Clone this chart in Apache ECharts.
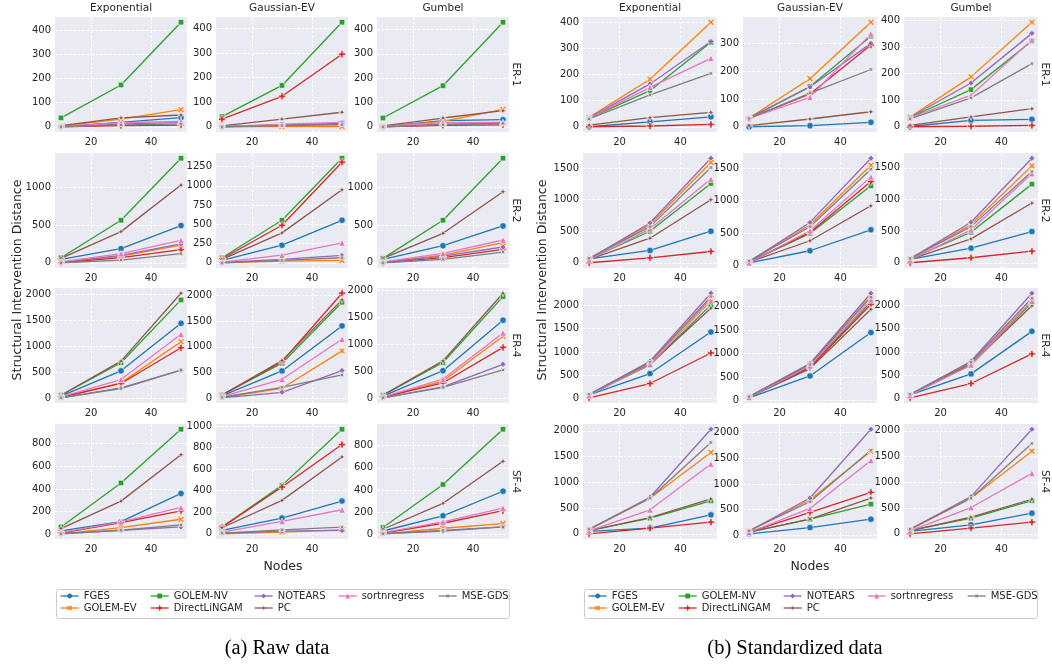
<!DOCTYPE html>
<html><head><meta charset="utf-8">
<script src="https://cdn.jsdelivr.net/npm/echarts@6/dist/echarts.min.js"></script>
<style>html,body{margin:0;padding:0;background:#fff}#c{width:1052px;height:668px}</style>
</head><body><div id="c"></div>
<script>
// ---------------- DATA ----------------
const nodes = [10, 30, 50];
const xTicks = [20, 40];
const methods = ['FGES','GOLEM-EV','GOLEM-NV','DirectLiNGAM','NOTEARS','PC','sortnregress','MSE-GDS'];
const noises = ['Exponential','Gaussian-EV','Gumbel'];
const graphs = ['ER-1','ER-2','ER-4','SF-4'];
// each subplot: rows in methods order, values at nodes 10,30,50

// (a) Raw data
const rawER1Exp = [[1,18,38],[2,32,71],[37,174,435],[0,5,7],[1,11,18],[5,37,49],[2,17,22],[0,8,11]];
const rawER1Gau = [[0,8,14],[0,1,1],[41,168,425],[31,124,295],[1,8,11],[4,31,59],[1,11,18],[0,5,8]];
const rawER1Gum = [[1,25,29],[1,22,72],[36,169,430],[0,6,8],[1,11,14],[4,36,66],[2,17,18],[0,8,14]];
const rawER2Exp = [[44,187,493],[5,89,235],[67,564,1386],[0,67,173],[5,98,250],[58,413,1030],[13,120,298],[0,36,120]];
const rawER2Gau = [[30,228,552],[0,22,30],[65,552,1358],[52,487,1306],[5,43,95],[43,388,948],[8,99,259],[0,30,65]];
const rawER2Gum = [[44,226,488],[5,102,266],[58,564,1386],[0,67,178],[5,89,209],[58,391,942],[13,124,302],[0,44,142]];
const rawER4Exp = [[45,530,1438],[20,300,1086],[64,684,1885],[25,288,971],[15,204,543],[64,716,2013],[30,364,1227],[15,192,543]];
const rawER4Gau = [[45,532,1408],[15,195,922],[65,681,1869],[65,714,2044],[10,117,539],[65,733,1915],[30,370,1149],[20,214,454]];
const rawER4Gum = [[45,515,1447],[20,323,1149],[64,665,1882],[25,292,944],[15,217,633],[64,696,1944],[30,360,1211],[15,205,528]];
const rawSF4Exp = [[30,112,361],[5,59,133],[65,453,927],[10,104,207],[5,36,65],[50,293,702],[15,110,237],[5,36,83]];
const rawSF4Gau = [[31,146,304],[0,16,37],[62,449,970],[62,434,828],[5,25,31],[56,310,713],[15,115,223],[5,37,62]];
const rawSF4Gum = [[30,167,389],[5,55,97],[61,450,949],[10,100,213],[5,30,67],[46,280,660],[15,112,237],[5,36,67]];

// (b) Standardized data
const stdER1Exp = [[0,19,38],[36,182,400],[33,138,323],[0,3,9],[34,164,326],[6,35,55],[33,151,262],[30,122,204]];
const stdER1Gau = [[0,4,16],[31,173,376],[31,145,326],[30,118,294],[31,143,300],[4,28,54],[30,106,334],[30,121,206]];
const stdER1Gum = [[1,24,28],[37,188,394],[35,140,323],[0,2,5],[36,165,352],[5,37,68],[34,119,327],[30,109,238]];
const stdER2Exp = [[63,195,500],[65,605,1589],[60,500,1257],[0,79,179],[63,631,1657],[55,389,1000],[45,537,1326],[70,573,1510]];
const stdER2Gau = [[45,230,553],[60,630,1546],[60,497,1229],[55,512,1295],[62,666,1654],[55,384,922],[45,538,1367],[70,599,1485]];
const stdER2Gum = [[55,231,493],[65,603,1530],[60,482,1242],[0,79,183],[63,639,1651],[55,377,943],[45,519,1410],[70,571,1441]];
const stdER4Exp = [[75,535,1428],[85,770,2150],[80,720,2013],[14,321,978],[85,800,2264],[80,740,1942],[70,730,2100],[90,780,2192]];
const stdER4Gau = [[60,525,1447],[80,780,2227],[80,720,2100],[75,700,2050],[85,790,2284],[75,680,1943],[70,740,2142],[85,770,2200]];
const stdER4Gum = [[75,528,1443],[85,760,2100],[80,720,2064],[14,321,957],[85,800,2264],[80,740,1993],[70,720,2090],[90,780,2157]];
const stdSF4Exp = [[45,110,368],[80,690,1581],[60,303,639],[0,110,226],[85,710,2032],[60,316,677],[55,465,1355],[90,690,1774]];
const stdSF4Gau = [[30,150,314],[80,693,1635],[60,314,608],[60,445,837],[85,726,2066],[60,314,726],[55,523,1458],[90,654,1655]];
const stdSF4Gum = [[45,174,400],[80,690,1606],[60,303,645],[0,110,226],[85,722,2032],[60,323,671],[55,510,1174],[90,690,1755]];

// y tick label sets
const t400 = [0,100,200,300,400];
const t300 = [0,100,200,300];
const t1000 = [0,500,1000];
const t1250 = [0,250,500,750,1000,1250];
const t1500 = [0,500,1000,1500];
const t2000 = [0,500,1000,1500,2000];
const t800 = [0,200,400,600,800];
const t1000b = [0,200,400,600,800,1000];

const rawData = [[rawER1Exp,rawER1Gau,rawER1Gum],[rawER2Exp,rawER2Gau,rawER2Gum],[rawER4Exp,rawER4Gau,rawER4Gum],[rawSF4Exp,rawSF4Gau,rawSF4Gum]];
const stdData = [[stdER1Exp,stdER1Gau,stdER1Gum],[stdER2Exp,stdER2Gau,stdER2Gum],[stdER4Exp,stdER4Gau,stdER4Gum],[stdSF4Exp,stdSF4Gau,stdSF4Gum]];
const rawTicks = [[t400,t400,t400],[t1000,t1250,t1000],[t2000,t2000,t2000],[t800,t1000b,t800]];
const stdTicks = [[t400,t300,t400],[t1500,t1500,t1500],[t2000,t2000,t2000],[t2000,t2000,t2000]];

// ---------------- STYLE / LAYOUT ----------------
const colors = ['#1f77b4','#ff7f0e','#2ca02c','#d62728','#9467bd','#8c564b','#e377c2','#7f7f7f'];
const pX = 'path://M2,0 L5,3 L8,0 L10,2 L7,5 L10,8 L8,10 L5,7 L2,10 L0,8 L3,5 L0,2 Z';
const pPlus = 'path://M3.4,0 H6.6 V3.4 H10 V6.6 H6.6 V10 H3.4 V6.6 H0 V3.4 H3.4 Z';
const pStar = 'path://M5,0 L6.3,3.7 L10,5 L6.3,6.3 L5,10 L3.7,6.3 L0,5 L3.7,3.7 Z';
const symbols = ['circle', pX, 'rect', pPlus, 'diamond', pStar, 'triangle', pStar];
const symRot = [0,0,0,0,0,0,0,45];
const symSize = [6.5,6.5,5.5,7,6,7,6.5,7];
const FONT = 'DejaVu Sans';
const TXT = '#262626';

const rowTops = [17,153,288,424];
const rowH = 115;
const panels = [
  {data: rawData, ticks: rawTicks, cols:[55,216,377], w:132, rowLabelX:516, yLabelX:18, nodesX:283, caption:'(a) Raw data', capX:277},
  {data: stdData, ticks: stdTicks, cols:[583,743,904], w:134, rowLabelX:1045, yLabelX:543, nodesX:810, caption:'(b) Standardized data', capX:795}
];
const plain = v => String(v);

const grid=[], xAxis=[], yAxis=[], series=[], graphic=[], legend=[];
let gi = 0;
panels.forEach((P) => {
  for (let r=0;r<4;r++){
    for (let c=0;c<3;c++){
      const sub = P.data[r][c];
      let mn=Infinity, mx=-Infinity;
      sub.forEach(s=>s.forEach(v=>{mn=Math.min(mn,v);mx=Math.max(mx,v);}));
      const rg = mx-mn;
      grid.push({left:P.cols[c], top:rowTops[r], width:P.w, height:rowH, show:true, backgroundColor:'#EAEAF2', borderWidth:0, containLabel:false});
      xAxis.push({type:'value', gridIndex:gi, min:8, max:52,
        axisLine:{show:false}, axisTick:{show:false, customValues:xTicks},
        axisLabel:{customValues:xTicks, formatter:plain, fontSize:10, color:TXT, fontFamily:FONT, margin:5},
        splitLine:{show:true, lineStyle:{color:'#ffffff', width:1, type:[3,1.5]}}});
      yAxis.push({type:'value', gridIndex:gi, min:mn-0.05*rg, max:mx+0.05*rg,
        axisLine:{show:false}, axisTick:{show:false, customValues:P.ticks[r][c]},
        axisLabel:{customValues:P.ticks[r][c], formatter:plain, fontSize:10, color:TXT, fontFamily:FONT, margin:4},
        splitLine:{show:true, lineStyle:{color:'#ffffff', width:1, type:[3,1.5]}}});
      sub.forEach((vals,m)=>{
        series.push({type:'line', name:methods[m], xAxisIndex:gi, yAxisIndex:gi,
          data: nodes.map((x,k)=>[x, vals[k]]),
          symbol:symbols[m], symbolSize:symSize[m], symbolRotate:symRot[m], showSymbol:true,
          itemStyle:{color:colors[m], borderColor:'#ffffff', borderWidth:0.6},
          lineStyle:{color:colors[m], width:1.3},
          emphasis:{disabled:true}, animation:false, z:2});
      });
      gi++;
    }
    graphic.push({type:'text', x:P.rowLabelX, y:rowTops[r]+rowH/2, rotation:-Math.PI/2,
      style:{text:graphs[r], font:'10.5px "DejaVu Sans"', fill:TXT, align:'center', verticalAlign:'middle'}});
  }
  for (let c=0;c<3;c++){
    graphic.push({type:'text', x:P.cols[c]+P.w/2, y:8,
      style:{text:noises[c], font:'10.5px "DejaVu Sans"', fill:TXT, align:'center', verticalAlign:'middle'}});
  }
  graphic.push({type:'text', x:P.yLabelX, y:280, rotation:Math.PI/2,
    style:{text:'Structural Intervention Distance', font:'12.5px "DejaVu Sans"', fill:TXT, align:'center', verticalAlign:'middle'}});
  graphic.push({type:'text', x:P.nodesX, y:567,
    style:{text:'Nodes', font:'12.5px "DejaVu Sans"', fill:TXT, align:'center', verticalAlign:'middle'}});
  graphic.push({type:'text', x:P.capX, y:649,
    style:{text:P.caption, font:'20.5px "Liberation Serif"', fill:'#000', align:'center', verticalAlign:'middle'}});
});

// legend boxes
const legendBoxes = [{x:56,y:589,w:453,h:29},{x:584,y:589,w:453,h:29}];
legendBoxes.forEach(b=>graphic.push({type:'rect', z:-1, shape:{x:b.x+0.5,y:b.y+0.5,width:b.w,height:b.h,r:2}, style:{fill:'#fff', stroke:'#cccccc', lineWidth:1}}));
const legendCols = [[methods[0],methods[1]],[methods[2],methods[3]],[methods[4],methods[5]],[methods[6]],[methods[7]]];
const legendX = [[60,150,254,338,438],[588,678,783,867,967]];
legendX.forEach(xs=>{
  xs.forEach((x,i)=>{
    legend.push({orient:'vertical', left:x, top:591, itemGap:2, itemWidth:18, itemHeight:6, padding:0,
      selectedMode:false, data:legendCols[i],
      itemStyle:{borderWidth:0}, lineStyle:{width:1.3, type:'solid'},
      textStyle:{fontSize:10, color:TXT, fontFamily:FONT}});
  });
});

const chart = echarts.init(document.getElementById('c'), null, {renderer:'canvas'});
chart.setOption({animation:false, backgroundColor:'#ffffff', textStyle:{fontFamily:FONT},
  grid, xAxis, yAxis, series, legend, graphic});
</script></body></html>
